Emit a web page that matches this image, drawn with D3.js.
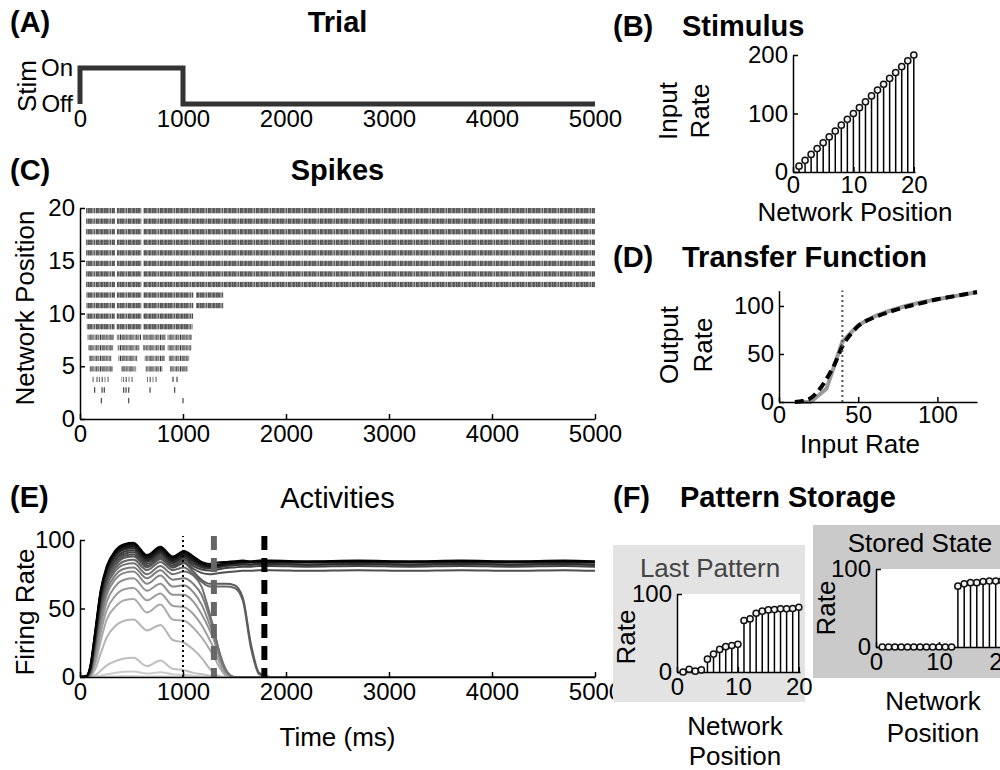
<!DOCTYPE html>
<html>
<head>
<meta charset="utf-8">
<script src="https://cdn.jsdelivr.net/npm/d3@7"></script>
<style>
  body { margin: 0; background: #fff; }
  svg text { font-family: "Liberation Sans", Arial, Helvetica, sans-serif; }
  .axis path, .axis line { stroke: #000; stroke-width: 1.5; }
  .axis text { font-size: 24px; fill: #000; }
  .lbl { font-size: 26px; fill: #000; }
  .ttl { font-size: 29px; font-weight: bold; fill: #000; }
</style>
</head>
<body>
<svg id="fig" width="1000" height="770"></svg>
<script>
// ---------------- data ----------------
// (A) trial protocol
const trialTicks = [0, 1000, 2000, 3000, 4000, 5000];
const stimTimes = [0, 0, 1000, 1000, 5000];
const stimLevels = [0, 1, 1, 0, 0];
const stimLevelNames = ["Off", "On"];

// (B) input rate per network position
const stimPositions = [1, 2, 3, 4, 5, 6, 7, 8, 9, 10, 11, 12, 13, 14, 15, 16, 17, 18, 19, 20];
const stimRates = [10, 20, 30, 40, 50, 60, 70, 80, 90, 100, 110, 120, 130, 140, 150, 160, 170, 180, 190, 200];

// (C) spike trains: bursts of firing [start, end] (ms) for each neuron; start == end is a single spike
const spikeRows = [1, 2, 3, 4, 5, 6, 7, 8, 9, 10, 11, 12, 13, 14, 15, 16, 17, 18, 19, 20];
const spikeBursts = [
  [],
  [[207, 207], [473, 473], [1000, 1000]],
  [[142, 142], [214, 214], [236, 236], [424, 424], [447, 447], [473, 473], [680, 680], [919, 919]],
  [[110, 285], [400, 525], [650, 752], [903, 903], [942, 942]],
  [[95, 318], [398, 545], [637, 800], [874, 1045]],
  [[88, 304], [372, 555], [628, 823], [862, 1060]],
  [[78, 322], [365, 580], [612, 825], [850, 1080]],
  [[72, 330], [358, 592], [610, 832], [848, 1085]],
  [[66, 336], [356, 598], [612, 1092]],
  [[64, 338], [356, 598], [612, 1098]],
  [[62, 340], [358, 598], [612, 1100], [1126, 1392]],
  [[62, 340], [358, 598], [612, 1100], [1126, 1392]],
  [[58, 340], [358, 598], [612, 5000]],
  [[58, 340], [358, 598], [612, 5000]],
  [[58, 340], [358, 598], [612, 5000]],
  [[58, 340], [358, 598], [612, 5000]],
  [[58, 340], [358, 598], [612, 5000]],
  [[58, 340], [358, 598], [612, 5000]],
  [[58, 340], [358, 598], [612, 5000]],
  [[58, 340], [358, 598], [612, 5000]]
];
const rasterXTicks = [0, 1000, 2000, 3000, 4000, 5000];
const rasterYTicks = [0, 5, 10, 15, 20];

// (D) transfer function: simulated (gray) and fitted (dashed)
const transferInput = [10, 20, 30, 40, 50, 60, 70, 80, 90, 100, 110, 120, 125];
const transferOutput = [0, 0, 14, 63, 80, 89, 95, 100, 104, 107, 110, 113, 114];
const fitInput = [10, 15, 20, 25, 30, 35, 40, 45, 50, 60, 70, 80, 90, 100, 110, 125];
const fitOutput = [0, 1, 4, 12, 24, 39, 58, 70, 79, 88, 94, 99, 103, 107, 110, 114.5];
const transferMarker = 40;

// (E) firing rate of each neuron over time
const activityTimes = [0, 60, 100, 150, 200, 260, 340, 430, 520, 650, 780, 900, 1010, 1100, 1180,
  1260, 1300, 1340, 1420, 1500, 1580, 1660, 1740, 1850, 2200, 2700, 3200, 3700, 4200, 4700, 5000];
const activityRates = [
  [0, 0, 0, 0, 0.1, 0.3, 0.5, 0.7, 0.8, 0.4, 0.6, 0.3, 0.3, 0.1, 0, 0, 0, 0, 0, 0, 0, 0, 0, 0, 0, 0, 0, 0, 0, 0, 0],
  [0, 0, 0, 0.3, 1, 2, 3, 3.8, 4, 2.5, 3.5, 2, 1.5, 1, 0.3, 0, 0, 0, 0, 0, 0, 0, 0, 0, 0, 0, 0, 0, 0, 0, 0],
  [0, 0, 0.1, 1.5, 4.5, 8.5, 11.5, 13.5, 14, 8, 12, 6, 5, 3, 2, 1, 0.5, 0, 0, 0, 0, 0, 0, 0, 0, 0, 0, 0, 0, 0, 0],
  [0, 0, 0.5, 6, 17, 29, 37, 41, 42, 34, 38, 27, 25, 20, 14, 6, 3, 1, 0, 0, 0, 0, 0, 0, 0, 0, 0, 0, 0, 0, 0],
  [0, 0, 0.8, 10, 26, 42, 51, 56, 57, 47, 53, 42, 41, 36, 29, 20, 15, 9, 1, 0, 0, 0, 0, 0, 0, 0, 0, 0, 0, 0, 0],
  [0, 0, 1, 13, 32, 49, 59, 64, 65, 56, 61, 52, 51, 46, 38, 27, 21, 13, 2, 0, 0, 0, 0, 0, 0, 0, 0, 0, 0, 0, 0],
  [0, 0.1, 1.5, 16, 37, 55, 66, 71, 72, 63, 68, 60, 60, 55, 46, 34, 27, 17, 3, 0, 0, 0, 0, 0, 0, 0, 0, 0, 0, 0, 0],
  [0, 0.1, 2, 19, 41, 60, 71, 76, 77, 68, 74, 66, 67, 62, 53, 38, 30, 19, 4, 0, 0, 0, 0, 0, 0, 0, 0, 0, 0, 0, 0],
  [0, 0.1, 2.5, 21, 44, 63, 74, 79, 80, 72, 78, 71, 72, 68, 60, 43, 33, 21, 4, 0, 0, 0, 0, 0, 0, 0, 0, 0, 0, 0, 0],
  [0, 0.2, 3, 23, 47, 66, 77, 82, 83, 75, 81, 75, 77, 74, 66, 46, 35, 22, 5, 0, 0, 0, 0, 0, 0, 0, 0, 0, 0, 0, 0],
  [0, 0.2, 3.5, 25, 49, 68, 79, 84.5, 85.5, 78, 84, 78, 80, 75, 69.5, 66, 66, 66, 66, 65, 56, 21, 2, 0, 0, 0, 0, 0, 0, 0, 0],
  [0, 0.2, 4, 26, 51, 70, 81, 87, 88, 80, 86, 80, 83, 77, 71, 68, 68, 68, 68, 67, 58, 24, 3, 0, 0, 0, 0, 0, 0, 0, 0],
  [0, 0.3, 4.5, 27, 53, 72, 83, 88.5, 89.5, 81, 87, 80, 84, 79, 76, 75, 75.3, 75.8, 76.5, 77, 77.5, 77.5, 78, 78, 77.5, 78, 77.5, 78, 77.5, 78, 77.5],
  [0, 0.3, 5, 29, 55, 74, 85, 90, 91, 82.5, 88.5, 81.5, 85.5, 81, 78.5, 77.8, 78, 78.5, 79.5, 80, 80.5, 80.5, 81, 81, 80.5, 81, 80.5, 81, 80.5, 81, 80.5],
  [0, 0.3, 5.5, 30, 57, 75, 86, 91.5, 92.5, 84, 90, 83, 87, 82.5, 80, 79.4, 79.6, 80, 81, 81.5, 82, 82, 82.5, 82.5, 82, 82.5, 82, 82.5, 82, 82.5, 82],
  [0, 0.4, 6, 31, 58, 77, 88, 93, 94, 85, 91, 84, 88, 84, 81, 79.8, 80, 80.5, 81.5, 82, 82.5, 82, 82.5, 82.5, 82, 82.5, 82, 82.5, 82, 82.5, 82],
  [0, 0.4, 6.5, 32, 60, 78, 89, 94, 95, 86, 92, 85, 89, 85, 82, 80.6, 81, 81.5, 82.5, 83, 83.5, 83.5, 84, 84, 83.5, 84, 83.5, 84, 83.5, 84, 83.5],
  [0, 0.5, 7, 33, 61, 79, 90, 95, 96, 87, 93, 86, 90, 86, 82.5, 80.8, 81, 81.5, 82.5, 83.5, 84, 84, 84.5, 84.5, 84, 84.5, 84, 84.5, 84, 84.5, 84],
  [0, 0.5, 7.5, 34, 62, 80, 91, 96, 97, 88, 94, 87, 91, 87, 83, 81.2, 81.4, 82, 83, 83.5, 84, 84, 84.5, 84.5, 84, 84.5, 84, 84.5, 84, 84.5, 84],
  [0, 0.5, 8, 35, 63, 81, 92, 97, 98, 89, 95, 88, 92, 88, 84, 82.5, 83, 83.5, 84, 84.5, 85, 84.5, 85, 85, 84.5, 85, 84.5, 85, 84.5, 85, 84.5]
];
const activityYTicks = [0, 50, 100];
const stimOffTime = 1000;
const lastPatternTime = 1300;
const storedStateTime = 1790;

// (F) pattern storage snapshots
const patternPositions = [1, 2, 3, 4, 5, 6, 7, 8, 9, 10, 11, 12, 13, 14, 15, 16, 17, 18, 19, 20];
const lastPatternRates = [0, 3.5, 1, 2.6, 16.5, 23, 29, 32.5, 34, 35.5, 66, 68, 75.3, 78, 79.6, 80, 81, 81, 81.4, 83];
const storedStateRates = [0, 0, 0, 0, 0, 0, 0, 0, 0, 0, 0, 0, 78, 81, 82.5, 82.5, 84, 84.5, 84.5, 85];
const positionTicks = [0, 10, 20];

// ---------------- drawing ----------------
const svg = d3.select("#fig");
svg.append("rect").attr("width", 1000).attr("height", 770).attr("fill", "#fff");

function matlabAxes(g, x, y, xTicks, yTicks, opts = {}) {
  const gx = g.append("g").attr("class", "axis")
    .attr("transform", `translate(0,${y.range()[0]})`)
    .call(d3.axisBottom(x).tickValues(xTicks).tickFormat(d3.format("d"))
      .tickSizeInner(-5).tickSizeOuter(0).tickPadding(opts.xPad ?? 6));
  const gy = g.append("g").attr("class", "axis")
    .attr("transform", `translate(${x.range()[0]},0)`)
    .call(d3.axisLeft(y).tickValues(yTicks).tickFormat(d3.format("d"))
      .tickSizeInner(-5).tickSizeOuter(0).tickPadding(opts.yPad ?? 5));
  [gx, gy].forEach(a => a.attr("font-size", null).attr("font-family", null));
  return { gx, gy };
}

function text(x, y, str, cls, anchor = "middle") {
  return svg.append("text").attr("x", x).attr("y", y).attr("class", cls)
    .attr("text-anchor", anchor).text(str);
}
function vtext(cx, cy, str, cls = "lbl") {
  return svg.append("text").attr("class", cls).attr("text-anchor", "middle").attr("dy", "0.35em")
    .attr("transform", `translate(${cx},${cy}) rotate(-90)`).text(str);
}

function stems(g, x, y, positions, values) {
  const pts = positions.map((p, i) => ({ p, v: values[i] }));
  g.selectAll(null).data(pts).join("line")
    .attr("x1", d => x(d.p)).attr("x2", d => x(d.p))
    .attr("y1", y(0)).attr("y2", d => y(d.v))
    .attr("stroke", "#000").attr("stroke-width", 1.5);
  g.selectAll(null).data(pts).join("circle")
    .attr("cx", d => x(d.p)).attr("cy", d => y(d.v)).attr("r", 3.1)
    .attr("fill", "#f2f2f2").attr("stroke", "#111").attr("stroke-width", 1.5);
}

// ---- panel A: trial ----
text(10, 32, "(A)", "ttl", "start");
text(337.5, 32, "Trial", "ttl");
{
  const x = d3.scaleLinear().domain([0, 5000]).range([80, 595]);
  const y = d3.scaleLinear().domain([0, 1]).range([104, 68]);
  const g = svg.append("g");
  const ax = g.append("g").attr("class", "axis").attr("transform", `translate(0,${y(0)})`)
    .call(d3.axisBottom(x).tickValues(trialTicks).tickFormat(d3.format("d")).tickSize(0).tickPadding(6));
  const ay = g.append("g").attr("class", "axis").attr("transform", `translate(${x(0)},0)`)
    .call(d3.axisLeft(y).tickValues([0, 1]).tickFormat(d => stimLevelNames[d]).tickSize(0).tickPadding(7));
  [ax, ay].forEach(a => { a.attr("font-size", null).attr("font-family", null); a.select(".domain").remove(); });
  const line = d3.line().x(d => x(d[0])).y(d => y(d[1]));
  g.append("path").datum(stimTimes.map((t, i) => [t, stimLevels[i]]))
    .attr("d", line).attr("fill", "none").attr("stroke", "#333").attr("stroke-width", 5)
    .attr("stroke-linejoin", "miter");
  vtext(27, 86, "Stim");
}

// ---- panel B: stimulus ----
text(613, 36, "(B)", "ttl", "start");
text(682, 36, "Stimulus", "ttl", "start");
{
  const x = d3.scaleLinear().domain([0, 20.2]).range([793, 915]);
  const y = d3.scaleLinear().domain([0, 200]).range([172, 55]);
  const g = svg.append("g");
  matlabAxes(g, x, y, positionTicks, [0, 100, 200], { xPad: 4 });
  stems(g, x, y, stimPositions, stimRates);
  vtext(668, 111, "Input");
  vtext(700, 111, "Rate");
  text(855, 221, "Network Position", "lbl");
}

// ---- panel C: spike raster ----
text(10, 180, "(C)", "ttl", "start");
text(337.5, 180, "Spikes", "ttl");
{
  const x = d3.scaleLinear().domain([0, 5000]).range([80, 595]);
  const y = d3.scaleLinear().domain([0, 20]).range([419, 208]);
  const defs = svg.append("defs");
  // stripe textures standing in for densely packed spike ticks
  const textures = {
    dense: { w: 16, bg: "#b4b4b4", xs: [0.3, 1.6, 2.8, 4.2, 5.3, 6.7, 8.1, 9.0, 10.5, 11.8, 12.9, 14.4],
      cs: ["#222", "#555", "#333", "#777", "#2a2a2a", "#4a4a4a", "#666", "#1a1a1a", "#555", "#333", "#888", "#444"] },
    medium: { w: 20, bg: "#c4c4c4", xs: [0.5, 2.3, 4.0, 6.2, 7.9, 10.1, 12.0, 13.8, 16.2, 18.1],
      cs: ["#222", "#555", "#2a2a2a", "#444", "#666", "#222", "#3a3a3a", "#777", "#2a2a2a", "#4a4a4a"] },
    sparse: { w: 24, bg: "#fff", xs: [1, 3.4, 6.2, 9.0, 12.1, 15.0, 18.2, 21.1],
      cs: ["#333", "#555", "#222", "#666", "#444", "#333", "#555", "#444"] }
  };
  Object.entries(textures).forEach(([id, t]) => {
    const p = defs.append("pattern").attr("id", "spk-" + id).attr("patternUnits", "userSpaceOnUse")
      .attr("width", t.w).attr("height", 770);
    p.append("rect").attr("width", t.w).attr("height", 770).attr("fill", t.bg);
    t.xs.forEach((xx, i) => p.append("line").attr("x1", xx).attr("x2", xx).attr("y1", 0).attr("y2", 770)
      .attr("stroke", t.cs[i]).attr("stroke-width", 0.9));
  });
  const g = svg.append("g");
  spikeRows.forEach((row, i) => {
    const tex = row <= 4 ? "sparse" : row <= 8 ? "medium" : "dense";
    spikeBursts[i].forEach(([s, e]) => {
      if (e <= s) {
        g.append("line").attr("x1", x(s)).attr("x2", x(s))
          .attr("y1", y(row)).attr("y2", y(row - 0.5))
          .attr("stroke", "#444").attr("stroke-width", 1.2);
      } else {
        g.append("rect").attr("x", x(s)).attr("width", x(e) - x(s))
          .attr("y", y(row)).attr("height", y(row - 0.5) - y(row))
          .attr("fill", `url(#spk-${tex})`);
      }
    });
  });
  matlabAxes(g, x, y, rasterXTicks, rasterYTicks);
  vtext(25, 308, "Network Position");
}

// ---- panel D: transfer function ----
text(613, 267, "(D)", "ttl", "start");
text(682, 267, "Transfer Function", "ttl", "start");
{
  const x = d3.scaleLinear().domain([0, 125]).range([779, 977]);
  const y = d3.scaleLinear().domain([0, 116]).range([402, 290.6]);
  const g = svg.append("g");
  const line = d3.line().x(d => x(d[0])).y(d => y(d[1])).curve(d3.curveMonotoneX);
  g.append("path").datum(transferInput.map((v, i) => [v, transferOutput[i]]))
    .attr("d", d3.line().x(d => x(d[0])).y(d => y(d[1])))
    .attr("fill", "none").attr("stroke", "#999").attr("stroke-width", 4);
  g.append("path").datum(fitInput.map((v, i) => [v, fitOutput[i]]))
    .attr("d", line).attr("fill", "none").attr("stroke", "#000").attr("stroke-width", 4)
    .attr("stroke-dasharray", "9,5");
  g.append("line").attr("x1", x(transferMarker)).attr("x2", x(transferMarker))
    .attr("y1", y(0)).attr("y2", y(116))
    .attr("stroke", "#555").attr("stroke-width", 2).attr("stroke-dasharray", "2,3");
  matlabAxes(g, x, y, [0, 50, 100], [0, 50, 100], { xPad: 4 });
  vtext(669, 345, "Output");
  vtext(703, 345, "Rate");
  text(860, 453, "Input Rate", "lbl");
}

// ---- panel E: activities ----
text(10, 507, "(E)", "ttl", "start");
svg.append("text").attr("x", 337.5).attr("y", 508).attr("text-anchor", "middle")
  .attr("font-size", 29).text("Activities");
{
  const x = d3.scaleLinear().domain([0, 5000]).range([80, 595]);
  const y = d3.scaleLinear().domain([0, 100]).range([677, 540]);
  const g = svg.append("g");
  const line = d3.line().x((d, i) => x(activityTimes[i])).y(d => y(d)).curve(d3.curveMonotoneX);
  const shade = d3.scaleLinear().domain([1, 20]).range([215, 0]);
  activityRates.forEach((rates, i) => {
    const c = Math.round(shade(i + 1));
    g.append("path").datum(rates).attr("d", line).attr("fill", "none")
      .attr("stroke", `rgb(${c},${c},${c})`).attr("stroke-width", 2);
  });
  g.append("line").attr("x1", x(stimOffTime)).attr("x2", x(stimOffTime))
    .attr("y1", y(0)).attr("y2", y(103))
    .attr("stroke", "#000").attr("stroke-width", 2).attr("stroke-dasharray", "2,3");
  g.append("line").attr("x1", x(lastPatternTime)).attr("x2", x(lastPatternTime))
    .attr("y1", y(103)).attr("y2", y(0))
    .attr("stroke", "#666").attr("stroke-width", 6).attr("stroke-dasharray", "14,8");
  g.append("line").attr("x1", x(storedStateTime)).attr("x2", x(storedStateTime))
    .attr("y1", y(103)).attr("y2", y(0))
    .attr("stroke", "#000").attr("stroke-width", 6).attr("stroke-dasharray", "14,8");
  matlabAxes(g, x, y, rasterXTicks, activityYTicks);
  vtext(25, 612, "Firing Rate");
  text(337.5, 746, "Time (ms)", "lbl");
}

// ---- panel F: pattern storage ----
text(613, 507, "(F)", "ttl", "start");
text(680, 507, "Pattern Storage", "ttl", "start");
{
  // last pattern
  svg.append("rect").attr("x", 613).attr("y", 545).attr("width", 192).attr("height", 157).attr("fill", "#e3e3e3");
  const x = d3.scaleLinear().domain([0, 20.2]).range([677, 800]);
  const y = d3.scaleLinear().domain([0, 100]).range([672, 594]);
  svg.append("rect").attr("x", 677).attr("y", 594).attr("width", 123).attr("height", 78).attr("fill", "#fff");
  const g = svg.append("g");
  matlabAxes(g, x, y, positionTicks, [0, 100]);
  stems(g, x, y, patternPositions, lastPatternRates);
  text(710, 577, "Last Pattern", "lbl").style("fill", "#444");
  vtext(626, 637, "Rate");
  text(735, 735, "Network", "lbl");
  text(735, 765, "Position", "lbl");
}
{
  // stored state
  svg.append("rect").attr("x", 813).attr("y", 525).attr("width", 200).attr("height", 153).attr("fill", "#cacaca");
  const x = d3.scaleLinear().domain([0, 20]).range([876, 1002]);
  const y = d3.scaleLinear().domain([0, 100]).range([647, 569]);
  svg.append("rect").attr("x", 876).attr("y", 569).attr("width", 140).attr("height", 78).attr("fill", "#fff");
  const g = svg.append("g");
  matlabAxes(g, x, y, positionTicks, [0, 100]);
  stems(g, x, y, patternPositions, storedStateRates);
  text(920, 552, "Stored State", "lbl");
  vtext(826, 608, "Rate");
  text(933, 710, "Network", "lbl");
  text(933, 742, "Position", "lbl");
}
</script>
</body>
</html>
